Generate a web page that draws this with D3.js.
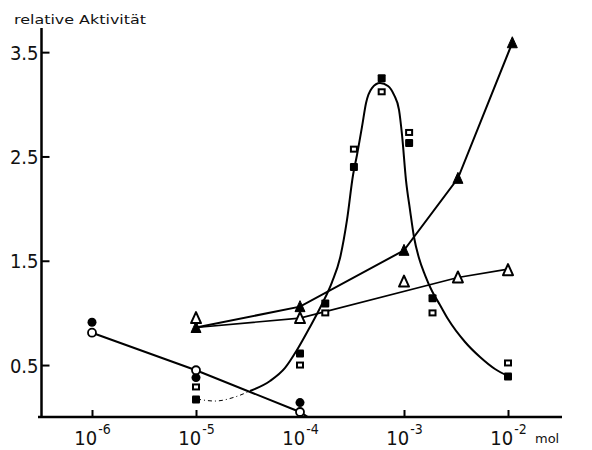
<!DOCTYPE html>
<html>
<head>
<meta charset="utf-8">
<script src="https://cdn.jsdelivr.net/npm/d3@7"></script>
<style>
  html, body { margin: 0; padding: 0; background: #fff; }
  svg { display: block; }
  .num { font-family: "Liberation Sans Narrow", "DejaVu Sans Condensed", "Liberation Sans", sans-serif; }
</style>
</head>
<body>
<svg id="chart" width="592" height="450"></svg>
<script>
// Concentration decades on the x axis and activity ticks on the y axis
const decades = [1e-6, 1e-5, 1e-4, 1e-3, 1e-2];
const decadeExp = ["-6", "-5", "-4", "-3", "-2"];
const yTicks = [0.5, 1.5, 2.5, 3.5];

// Circles
const circleMol = [1e-6, 1e-5, 1e-4];
const filledCircle = [0.91, 0.38, 0.14];
const openCircle = [0.81, 0.45, 0.05];
const openCircleLineMol = [1e-6, 1e-5, 1e-4, 1.19e-4];
const openCircleLine = [0.81, 0.45, 0.05, 0];

// Squares
const squareMol = [1e-5, 1e-4, 1.75e-4, 3.3e-4, 6.1e-4, 1.12e-3, 1.88e-3, 1e-2];
const filledSquare = [0.17, 0.61, 1.09, 2.40, 3.25, 2.63, 1.14, 0.39];
const openSquare = [0.29, 0.50, 1.00, 2.57, 3.12, 2.73, 1.00, 0.52];

// Hand-fitted peak curve through the squares (log10 mol, activity)
const peakDottedExp = [-4.99, -4.817, -4.625, -4.481];
const peakDotted = [0.174, 0.155, 0.194, 0.251];
const peakCurveExp = [-4.481, -4.288, -4.144, -4.029, -3.904, -3.788, -3.692, -3.615, -3.548,
  -3.490, -3.452, -3.404, -3.365, -3.308, -3.231, -3.154, -3.096, -3.048, -3.019, -2.981,
  -2.942, -2.904, -2.856, -2.798, -2.731, -2.654, -2.577, -2.413, -2.269, -2.125, -2.000];
const peakCurve = [0.251, 0.347, 0.472, 0.644, 0.865, 1.085, 1.296, 1.526, 1.891,
  2.322, 2.514, 2.783, 3.013, 3.156, 3.204, 3.176, 3.090, 2.946, 2.706, 2.274,
  1.986, 1.728, 1.526, 1.363, 1.210, 1.076, 0.941, 0.721, 0.577, 0.462, 0.395];

// Triangles
const filledTriangleMol = [1e-5, 1e-4, 1e-3, 3.3e-3, 1.1e-2];
const filledTriangle = [0.86, 1.06, 1.60, 2.29, 3.59];
const openTriangleMol = [1e-5, 1e-4, 1e-3, 3.3e-3, 1e-2];
const openTriangle = [0.95, 0.95, 1.30, 1.34, 1.41];
const openTriangleFitMol = [1e-5, 1e-4, 3.3e-3, 1e-2];
const openTriangleFit = [0.86, 0.95, 1.34, 1.42];

const svg = d3.select("#chart");
const x = d3.scaleLog().domain([1e-6, 1e-2]).range([92, 508]);
const y = d3.scaleLinear().domain([0, 3.5]).range([417.2, 52.15]);

const pts = (xs, ys) => xs.map((m, i) => [m, ys[i]]);
const line = d3.line().x(d => x(d[0])).y(d => y(d[1]));
const smooth = d3.line().x(d => x(d[0])).y(d => y(d[1])).curve(d3.curveMonotoneX);

// Axes
const yAxis = d3.axisLeft(y).tickValues(yTicks).tickSize(-8).tickPadding(4).tickFormat(d3.format(".1f"));
const gy = svg.append("g").attr("transform", "translate(41.5,0)").call(yAxis);
gy.select(".domain").remove();
gy.selectAll(".tick line").attr("stroke", "#000").attr("stroke-width", 2);
gy.selectAll(".tick text")
  .attr("class", "num")
  .attr("font-size", 20)
  .attr("fill", "#111")
  .attr("x", -3)
  .attr("dy", "0.36em");

const xAxis = d3.axisBottom(x).tickValues(decades).tickSize(-7).tickFormat(() => "");
const gx = svg.append("g").attr("transform", "translate(0,417)").call(xAxis);
gx.select(".domain").remove();
gx.selectAll(".tick line").attr("stroke", "#000").attr("stroke-width", 2);
gx.selectAll(".tick text").remove();
gx.selectAll(".tick").each(function (d, i) {
  const t = d3.select(this).append("text")
    .attr("class", "num")
    .attr("fill", "#111")
    .attr("text-anchor", "middle")
    .attr("y", 28)
    .attr("font-size", 20);
  t.append("tspan").text("10");
  t.append("tspan").attr("font-size", 14).attr("dy", -11).attr("dx", 1).text(decadeExp[i]);
});

svg.append("line").attr("x1", 41.5).attr("x2", 41.5).attr("y1", 28).attr("y2", 418)
  .attr("stroke", "#000").attr("stroke-width", 2.5);
svg.append("line").attr("x1", 38).attr("x2", 562).attr("y1", 417).attr("y2", 417)
  .attr("stroke", "#000").attr("stroke-width", 2.5);

svg.append("text")
  .attr("x", 14).attr("y", 24)
  .attr("font-family", "DejaVu Sans, sans-serif")
  .attr("font-size", 13)
  .attr("textLength", 132)
  .attr("lengthAdjust", "spacingAndGlyphs")
  .attr("fill", "#111")
  .text("relative Aktivität");

svg.append("text")
  .attr("x", 535).attr("y", 443)
  .attr("font-family", "DejaVu Sans, sans-serif")
  .attr("font-size", 13)
  .attr("fill", "#111")
  .text("mol");

// Lines
const lines = svg.append("g").attr("fill", "none").attr("stroke", "#000");
lines.append("path").attr("d", line(pts(openCircleLineMol, openCircleLine))).attr("stroke-width", 2);
lines.append("path").attr("d", line(pts(filledTriangleMol, filledTriangle))).attr("stroke-width", 2);
lines.append("path").attr("d", line(pts(openTriangleFitMol, openTriangleFit))).attr("stroke-width", 1.6);
lines.append("path")
  .attr("d", smooth(peakDottedExp.map((e, i) => [Math.pow(10, e), peakDotted[i]])))
  .attr("stroke-width", 1).attr("stroke-dasharray", "4,3,1,3");
lines.append("path")
  .attr("d", smooth(peakCurveExp.map((e, i) => [Math.pow(10, e), peakCurve[i]])))
  .attr("stroke-width", 2);

// Markers
const marks = svg.append("g");
const tri = "M0,-6 L5,5 L-5,5 Z";

marks.selectAll(".fc").data(pts(circleMol, filledCircle)).join("circle")
  .attr("cx", d => x(d[0])).attr("cy", d => y(d[1])).attr("r", 4.5).attr("fill", "#000");
marks.selectAll(".oc").data(pts(circleMol, openCircle)).join("circle")
  .attr("cx", d => x(d[0])).attr("cy", d => y(d[1])).attr("r", 4)
  .attr("fill", "#fff").attr("stroke", "#000").attr("stroke-width", 1.8);

marks.selectAll(".fs").data(pts(squareMol, filledSquare)).join("rect")
  .attr("x", d => x(d[0]) - 4).attr("y", d => y(d[1]) - 4)
  .attr("width", 8).attr("height", 8).attr("rx", 1).attr("fill", "#000");
marks.selectAll(".os").data(pts(squareMol, openSquare)).join("rect")
  .attr("x", d => x(d[0]) - 3).attr("y", d => y(d[1]) - 2.5)
  .attr("width", 6).attr("height", 5)
  .attr("fill", "#fff").attr("stroke", "#000").attr("stroke-width", 2);

marks.selectAll(".ft").data(pts(filledTriangleMol, filledTriangle)).join("path")
  .attr("d", tri).attr("transform", d => `translate(${x(d[0])},${y(d[1])})`)
  .attr("fill", "#000").attr("stroke", "#000").attr("stroke-width", 1).attr("stroke-linejoin", "round");
marks.selectAll(".ot").data(pts(openTriangleMol, openTriangle)).join("path")
  .attr("d", tri).attr("transform", d => `translate(${x(d[0])},${y(d[1])})`)
  .attr("fill", "#fff").attr("stroke", "#000").attr("stroke-width", 2).attr("stroke-linejoin", "round");
</script>
</body>
</html>
